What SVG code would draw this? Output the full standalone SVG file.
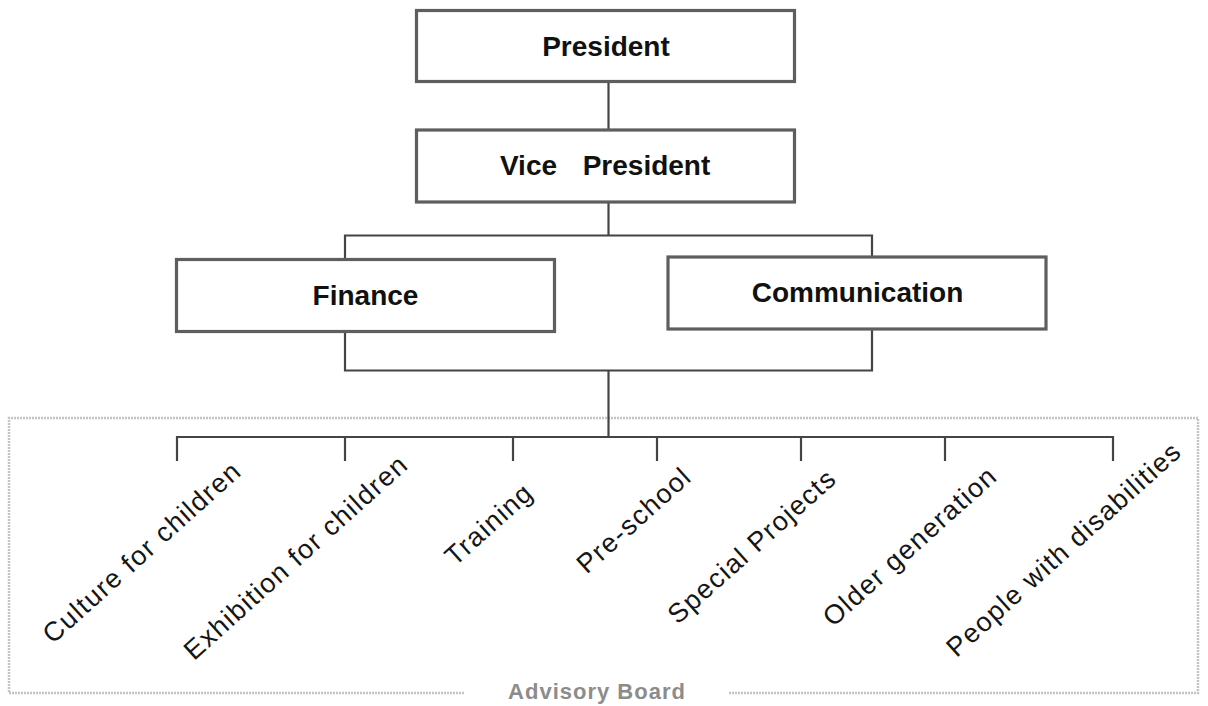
<svg xmlns="http://www.w3.org/2000/svg" width="1208" height="706" viewBox="0 0 1208 706">
<style>
.box{fill:#fff;stroke:#5e5e5e;stroke-width:3.2}
.conn{fill:none;stroke:#444;stroke-width:2.2}
.title{font-family:"Liberation Sans",Arial,sans-serif;font-weight:bold;font-size:28px;fill:#111;text-anchor:middle}
.lbl{font-family:"Liberation Sans",Arial,sans-serif;font-size:27px;letter-spacing:1.4px;fill:#151515;text-anchor:middle}
.board{fill:none;stroke:#c4c4c4;stroke-width:2.5;stroke-dasharray:2 1}
.boardtxt{font-family:"Liberation Sans",Arial,sans-serif;font-weight:bold;font-size:22px;letter-spacing:1px;fill:#8c8c8c;text-anchor:middle}
</style>
<rect width="1208" height="706" fill="#fff"/>
<g id="advisory-board">
<path class="board" d="M464 693 H9 V418 H1198 V693 H728"/>
<text class="boardtxt" x="597" y="699">Advisory Board</text>
</g>
<g id="connectors">
<path class="conn" d="M608.5 82 V130"/>
<path class="conn" d="M608.5 202 V235.5"/>
<path class="conn" d="M345 259.5 V235.5 H872 V257"/>
<path class="conn" d="M345 331.5 V370.5 H872 V329"/>
<path class="conn" d="M608.5 370.5 V437"/>
<path class="conn" d="M177 461 V437 H1113 V461"/>
<path class="conn" d="M345 437 V461 M513 437 V461 M657 437 V461 M801 437 V461 M945 437 V461"/>
</g>
<g id="president">
<rect class="box" x="416.5" y="10.5" width="378" height="71"/>
<text class="title" x="606" y="56">President</text>
</g>
<g id="vice-president">
<rect class="box" x="416.5" y="130" width="378" height="72"/>
<text class="title" x="528.5" y="175">Vice</text>
<text class="title" x="646.5" y="175">President</text>
</g>
<g id="finance">
<rect class="box" x="176.5" y="259.5" width="378" height="72"/>
<text class="title" x="365.5" y="305">Finance</text>
</g>
<g id="communication">
<rect class="box" x="668" y="257" width="378" height="72"/>
<text class="title" x="857.5" y="302">Communication</text>
</g>
<g id="culture-for-children"><text class="lbl" transform="translate(148 559) rotate(-42)">Culture for children</text></g>
<g id="exhibition-for-children"><text class="lbl" transform="translate(302 564) rotate(-42)">Exhibition for children</text></g>
<g id="training"><text class="lbl" transform="translate(495 531) rotate(-42)">Training</text></g>
<g id="pre-school"><text class="lbl" transform="translate(640 527) rotate(-42)">Pre-school</text></g>
<g id="special-projects"><text class="lbl" transform="translate(758 553) rotate(-42)">Special Projects</text></g>
<g id="older-generation"><text class="lbl" transform="translate(916 553) rotate(-42)">Older generation</text></g>
<g id="people-with-disabilities"><text class="lbl" transform="translate(1070 556) rotate(-42)">People with disabilities</text></g>
</svg>
